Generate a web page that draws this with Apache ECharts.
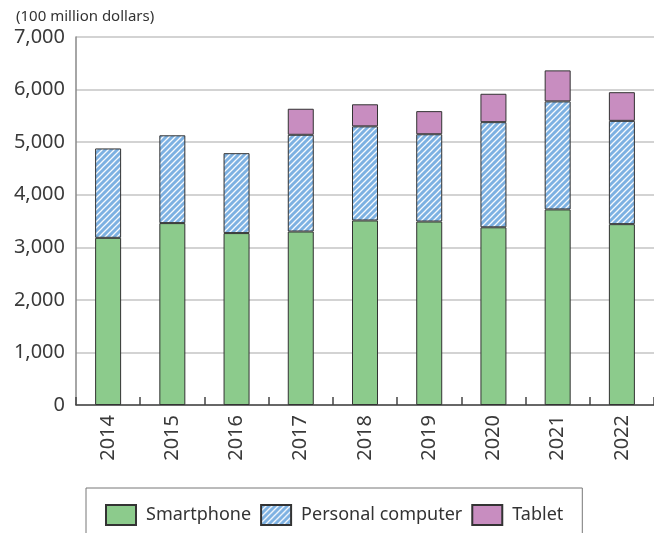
<!DOCTYPE html>
<html>
<head>
<meta charset="utf-8">
<script src="https://cdn.jsdelivr.net/npm/echarts@6/dist/echarts.min.js"></script>
<style>
html,body{margin:0;padding:0;background:#fff;}
#chart{width:654px;height:533px;}
</style>
</head>
<body>
<div id="chart"></div>
<script>
const categories = ['2014','2015','2016','2017','2018','2019','2020','2021','2022'];
const smartphone = [3180, 3460, 3270, 3300, 3510, 3490, 3380, 3720, 3440];
const personalComputer = [1700, 1670, 1520, 1840, 1790, 1660, 2000, 2055, 1965];
const tablet = [0, 0, 0, 495, 420, 440, 540, 590, 545];
const yTicks = [0, 1000, 2000, 3000, 4000, 5000, 6000, 7000];

function hatch() {
  const c = document.createElement('canvas');
  const s = 6;
  c.width = s; c.height = s;
  const g = c.getContext('2d');
  g.fillStyle = '#7db1e2';
  g.fillRect(0, 0, s, s);
  g.strokeStyle = 'rgba(255,255,255,0.95)';
  g.lineWidth = 1.3;
  g.beginPath();
  g.moveTo(-1, s + 1); g.lineTo(s + 1, -1);
  g.moveTo(-1, 1); g.lineTo(1, -1);
  g.moveTo(s - 1, s + 1); g.lineTo(s + 1, s - 1);
  g.stroke();
  return c;
}

const chart = echarts.init(document.getElementById('chart'), null, {renderer: 'canvas'});
const FONT = '"Noto Sans", "Open Sans", sans-serif';
const border = {borderColor: '#333', borderWidth: 1};
chart.setOption({
  animation: false,
  textStyle: {fontFamily: FONT},
  title: {
    text: '(100 million dollars)',
    left: 11, top: 4,
    textStyle: {fontSize: 15, fontWeight: 'normal', color: '#333', fontFamily: FONT}
  },
  grid: {left: 76, top: 37, right: -11, bottom: 128},
  legend: {
    left: 86, top: 488,
    data: ['Smartphone', 'Personal computer', 'Tablet'],
    icon: 'rect',
    itemWidth: 30, itemHeight: 20, itemGap: 9,
    borderColor: '#777', borderWidth: 1,
    padding: [16, 19, 30, 19],
    textStyle: {fontSize: 18, color: '#333', fontFamily: FONT, padding: [0, 0, 0, 5]}
  },
  xAxis: {
    type: 'category',
    data: categories,
    axisLine: {lineStyle: {color: '#444', width: 1.5}},
    axisTick: {show: true, inside: true, length: 8, interval: 0, lineStyle: {color: '#444', width: 1.5}},
    axisLabel: {rotate: 90, fontSize: 20, color: '#3a3a3a', margin: 10, fontFamily: FONT}
  },
  yAxis: {
    type: 'value',
    min: yTicks[0], max: yTicks[yTicks.length - 1], interval: 1000,
    axisLine: {show: true, lineStyle: {color: '#888', width: 1.5}},
    axisTick: {show: false},
    axisLabel: {fontSize: 20, color: '#3a3a3a', margin: 11, fontFamily: FONT,
      formatter: v => v.toLocaleString('en-US')},
    splitLine: {lineStyle: {color: '#c4c4c4', width: 1.5}}
  },
  series: [
    {name: 'Smartphone', type: 'bar', stack: 'a', data: smartphone, barWidth: 26,
      itemStyle: Object.assign({color: '#8ccb8c'}, border)},
    {name: 'Personal computer', type: 'bar', stack: 'a', data: personalComputer, barWidth: 26,
      itemStyle: Object.assign({color: {image: hatch(), repeat: 'repeat'}}, border)},
    {name: 'Tablet', type: 'bar', stack: 'a', data: tablet.map(v => v === 0 ? null : v), barWidth: 26,
      itemStyle: Object.assign({color: '#c88dc0'}, border)}
  ]
});
</script>
</body>
</html>
